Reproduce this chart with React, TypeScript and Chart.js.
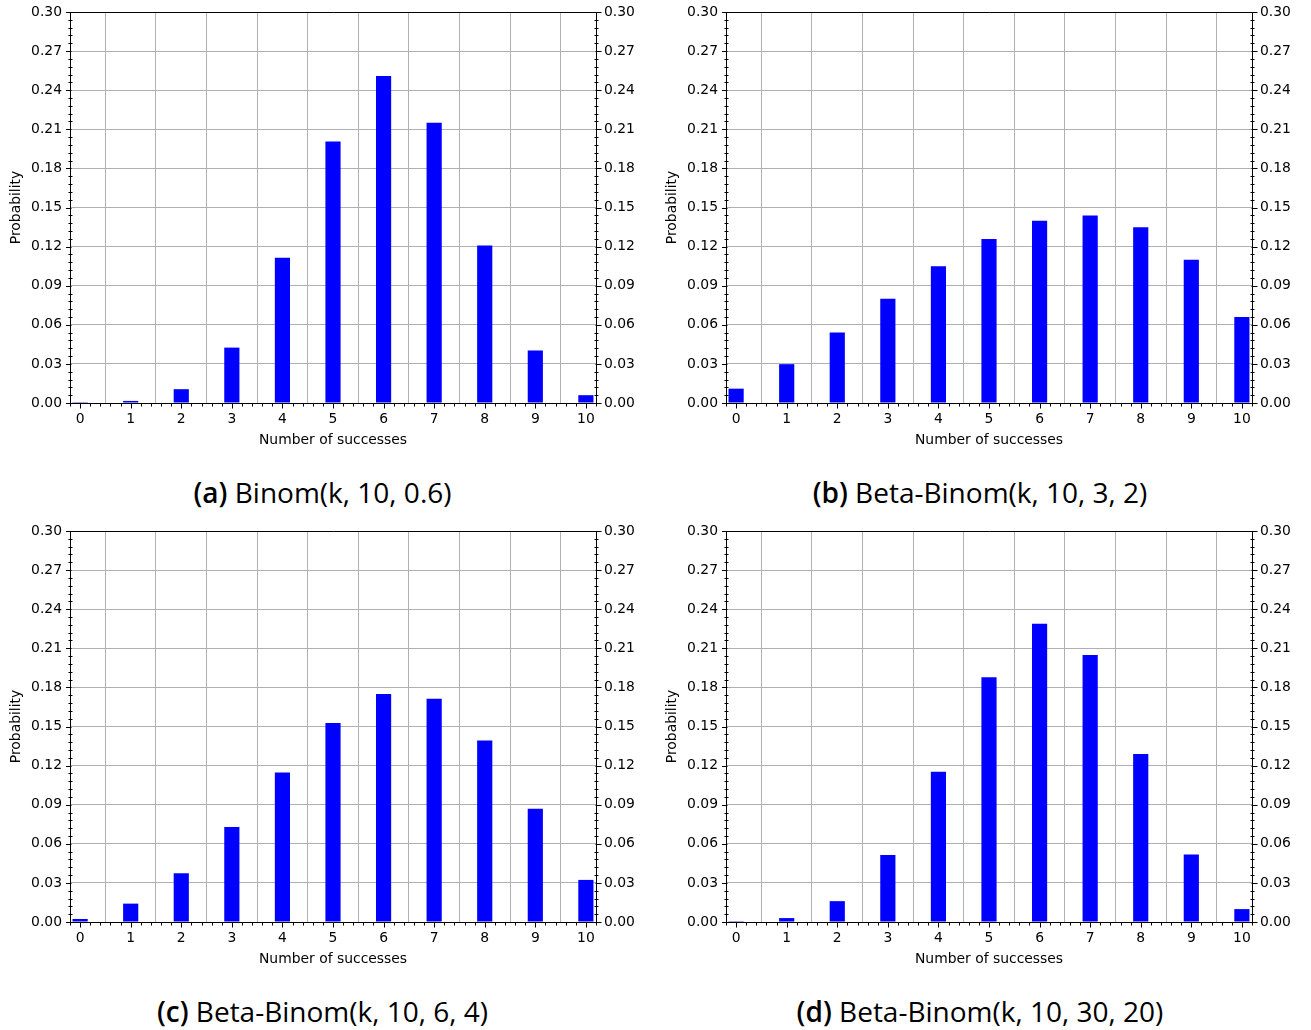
import React, { useEffect, useRef } from "react";
import { Chart, registerables } from "chart.js";

Chart.register(...registerables);

// ---- data ----
const successes = [0, 1, 2, 3, 4, 5, 6, 7, 8, 9, 10];
const binom_10_06 = [0.0001, 0.0016, 0.0106, 0.0425, 0.1115, 0.2007, 0.2508, 0.215, 0.1209, 0.0403, 0.006];
const betaBinom_10_3_2 = [0.011, 0.0298, 0.054, 0.0799, 0.1049, 0.1259, 0.1399, 0.1439, 0.1349, 0.1099, 0.0659];
const betaBinom_10_6_4 = [0.0023, 0.0141, 0.0374, 0.0729, 0.1147, 0.1526, 0.1749, 0.1713, 0.1392, 0.0868, 0.0323];
const betaBinom_10_30_20 = [0.0001, 0.003, 0.016, 0.0515, 0.1153, 0.1878, 0.2288, 0.2049, 0.1289, 0.0518, 0.0099];
const xTickValues = [0, 1, 2, 3, 4, 5, 6, 7, 8, 9, 10];
const yTickValues = [0, 0.03, 0.06, 0.09, 0.12, 0.15, 0.18, 0.21, 0.24, 0.27, 0.3];
const xAxisTitle = "Number of successes";
const yAxisTitle = "Probability";

const panels = [
  { id: "a", name: "Binom(k, 10, 0.6)", values: binom_10_06, left: 0, top: 0 },
  { id: "b", name: "Beta-Binom(k, 10, 3, 2)", values: betaBinom_10_3_2, left: 656, top: 0 },
  { id: "c", name: "Beta-Binom(k, 10, 6, 4)", values: betaBinom_10_6_4, left: 0, top: 519 },
  { id: "d", name: "Beta-Binom(k, 10, 30, 20)", values: betaBinom_10_30_20, left: 656, top: 519 },
];

const CW = 655;
const CH = 470;
const AREA_LEFT = 70;
const AREA_RIGHT = 596;
const AREA_TOP = 12;
const AREA_BOTTOM = 403;
const TICK_FONT = { family: "'DejaVu Sans'", size: 13.9 };
const MINOR_DIV = 5;

const ticksAndSpines = {
  id: "ticksAndSpines",
  afterDraw(chart: any) {
    const { ctx, chartArea } = chart;
    const xs = chart.scales.x;
    const ys = chart.scales.y;
    const l = Math.round(chartArea.left) + 0.5;
    const r = Math.round(chartArea.right) + 0.5;
    const t = Math.round(chartArea.top) + 0.5;
    const b = Math.round(chartArea.bottom) + 0.5;
    ctx.save();
    ctx.strokeStyle = "#000";
    ctx.lineWidth = 1;
    ctx.beginPath();
    ctx.rect(l, t, r - l, b - t);
    ctx.stroke();

    const line = (x1: number, y1: number, x2: number, y2: number) => {
      ctx.beginPath();
      ctx.moveTo(x1, y1);
      ctx.lineTo(x2, y2);
      ctx.stroke();
    };

    // x ticks
    const xStep = (xTickValues[1] - xTickValues[0]) / MINOR_DIV;
    const xMin = xs.min, xMax = xs.max;
    for (let v = xTickValues[0]; v >= xMin - 1e-9; v -= xStep) {
      const p = Math.round(xs.getPixelForValue(v)) + 0.5;
      if (Math.abs(v - xTickValues[0]) > 1e-9) line(p, b, p, b + 3);
    }
    for (let i = 0; ; i++) {
      const v = xTickValues[0] + i * xStep;
      if (v > xMax + 1e-9) break;
      const p = Math.round(xs.getPixelForValue(v)) + 0.5;
      if (i % MINOR_DIV === 0) line(p, b, p, b + 5);
      else line(p, b, p, b + 3);
    }

    // y ticks (left and right)
    const yStep = (yTickValues[1] - yTickValues[0]) / MINOR_DIV;
    const nY = Math.round((yTickValues[yTickValues.length - 1] - yTickValues[0]) / yStep);
    for (let i = 0; i <= nY; i++) {
      const v = yTickValues[0] + i * yStep;
      const p = Math.round(ys.getPixelForValue(v)) + 0.5;
      if (i % MINOR_DIV === 0) {
        line(l - 4.5, p, l + 1, p);
        line(r - 1, p, r + 5, p);
      } else {
        line(l - 2, p, l + 2, p);
        line(r - 2, p, r + 2, p);
      }
    }
    ctx.restore();
  },
};

function makeConfig(values: number[]): any {
  const setYTicks = (s: any) => {
    s.ticks = yTickValues.map((v) => ({ value: v }));
  };
  const noPad = (s: any) => {
    s.paddingTop = 0;
    s.paddingBottom = 0;
    s.paddingLeft = 0;
    s.paddingRight = 0;
  };
  return {
    type: "bar",
    data: {
      datasets: [
        {
          data: successes.map((k, i) => ({ x: k, y: values[i] })),
          backgroundColor: "#0000ff",
          borderWidth: 0,
          categoryPercentage: 1,
          barPercentage: 0.3,
          yAxisID: "y",
          xAxisID: "x",
        },
      ],
    },
    options: {
      animation: false,
      responsive: false,
      devicePixelRatio: 1,
      layout: { padding: { top: AREA_TOP, left: 0, right: 0, bottom: 0 } },
      plugins: { legend: { display: false }, tooltip: { enabled: false }, title: { display: false } },
      scales: {
        x: {
          type: "linear",
          position: "bottom",
          min: -0.2,
          max: 10.2,
          offset: false,
          afterBuildTicks: (s: any) => {
            s.ticks = xTickValues.map((v) => ({ value: v }));
          },
          afterFit: (s: any) => {
            s.height = CH - AREA_BOTTOM;
            noPad(s);
          },
          ticks: {
            autoSkip: false,
            maxRotation: 0,
            minRotation: 0,
            padding: 8.5,
            color: "#000",
            font: TICK_FONT,
            callback: (v: number) => String(v),
          },
          grid: { color: "#b0b0b0", lineWidth: 1, drawTicks: false },
          border: { display: false },
          title: {
            display: true,
            text: xAxisTitle,
            color: "#000",
            font: TICK_FONT,
            padding: { top: 0, bottom: 21.7 },
          },
        },
        y: {
          type: "linear",
          position: "left",
          min: 0,
          max: 0.3,
          afterBuildTicks: setYTicks,
          afterFit: (s: any) => {
            s.width = AREA_LEFT;
            noPad(s);
          },
          ticks: {
            padding: 8,
            color: "#000",
            font: TICK_FONT,
            callback: (v: number) => v.toFixed(2),
          },
          grid: { color: "#b0b0b0", lineWidth: 1, drawTicks: false },
          border: { display: false },
          title: {
            display: true,
            text: yAxisTitle,
            color: "#000",
            font: TICK_FONT,
            padding: { top: 7.7, bottom: 0 },
          },
        },
        y2: {
          type: "linear",
          position: "right",
          min: 0,
          max: 0.3,
          afterBuildTicks: setYTicks,
          afterFit: (s: any) => {
            s.width = CW - AREA_RIGHT;
            noPad(s);
          },
          ticks: {
            padding: 8,
            color: "#000",
            font: TICK_FONT,
            callback: (v: number) => v.toFixed(2),
          },
          grid: { display: false, drawTicks: false },
          border: { display: false },
        },
      },
    },
    plugins: [ticksAndSpines],
  };
}

function Panel({ values }: { values: number[] }) {
  const ref = useRef<HTMLCanvasElement | null>(null);
  useEffect(() => {
    if (!ref.current) return;
    const chart = new Chart(ref.current, makeConfig(values));
    return () => chart.destroy();
  }, [values]);
  return <canvas ref={ref} width={CW} height={CH} style={{ width: CW, height: CH, display: "block" }} />;
}

export default function App() {
  return (
    <div style={{ position: "absolute", left: 0, top: 0, width: 1311, height: 1030, background: "#fff", overflow: "hidden" }}>
      {panels.map((p) => (
        <React.Fragment key={p.id}>
          <div style={{ position: "absolute", left: p.left, top: p.top, width: CW, height: CH }}>
            <Panel values={p.values} />
          </div>
          <div
            style={{
              position: "absolute",
              left: p.left === 0 ? 0 : 656,
              width: p.left === 0 ? 645 : 648,
              top: p.top + 474,
              height: 36,
              lineHeight: "36px",
              textAlign: "center",
              fontFamily: "'Open Sans', sans-serif",
              fontSize: 28,
              color: "#000",
              whiteSpace: "nowrap",
            }}
          >
            <b style={{ fontWeight: 600 }}>({p.id})</b> {p.name}
          </div>
        </React.Fragment>
      ))}
    </div>
  );
}
